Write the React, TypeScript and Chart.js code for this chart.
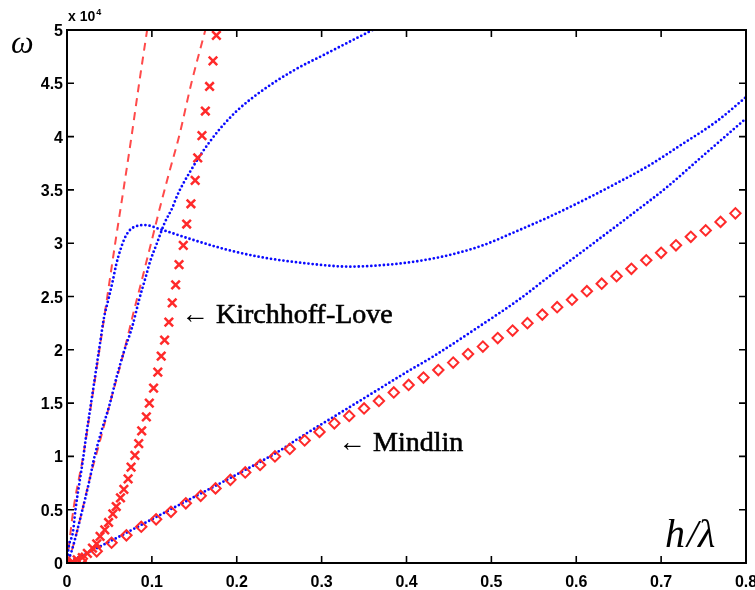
import React, { useEffect, useRef } from "react";
import { Chart, registerables } from "chart.js";

Chart.register(...registerables);

// Axis ticks (ω in units of 10^4)
const X_TICKS = [0, 0.1, 0.2, 0.3, 0.4, 0.5, 0.6, 0.7, 0.8];
const X_TICK_LABELS = ["0", "0.1", "0.2", "0.3", "0.4", "0.5", "0.6", "0.7", "0.8"];
const Y_TICKS = [0, 0.5, 1, 1.5, 2, 2.5, 3, 3.5, 4, 4.5, 5];
const Y_TICK_LABELS = ["0", "0.5", "1", "1.5", "2", "2.5", "3", "3.5", "4", "4.5", "5"];

// Red dashed line (steep)
const DASH1_H = [0, 0.0075, 0.019, 0.0287, 0.0382, 0.0475, 0.0568, 0.0665, 0.076, 0.085, 0.0944];
const DASH1_W = [0, 0.5, 1.0, 1.5, 2.0, 2.5, 3.0, 3.5, 4.0, 4.5, 5.0];

// Red dashed line (second)
const DASH2_H = [0, 0.005, 0.016, 0.028, 0.037, 0.05, 0.067, 0.079, 0.088, 0.1, 0.11, 0.121, 0.132, 0.1465, 0.163];
const DASH2_W = [0, 0.1, 0.43, 0.83, 1.09, 1.48, 1.98, 2.37, 2.65, 3.03, 3.35, 3.68, 4.0, 4.5, 5.0];

// Blue dotted branch with the hump
const BLUE1_H = [0, 0.002, 0.007, 0.01, 0.019, 0.0227, 0.0272, 0.0312, 0.0353, 0.0393, 0.0431, 0.049, 0.054, 0.058, 0.063, 0.0676, 0.0727, 0.0786, 0.092, 0.11, 0.149, 0.188, 0.228, 0.283, 0.333, 0.38, 0.412, 0.451, 0.49, 0.529, 0.569, 0.608, 0.647, 0.686, 0.725, 0.765, 0.8];
const BLUE1_W = [0, 0.15, 0.29, 0.5, 0.98, 1.2, 1.44, 1.65, 1.87, 2.08, 2.28, 2.48, 2.65, 2.8, 2.94, 3.04, 3.11, 3.15, 3.17, 3.13, 3.03, 2.94, 2.87, 2.81, 2.78, 2.8, 2.83, 2.89, 2.98, 3.11, 3.25, 3.4, 3.56, 3.73, 3.93, 4.14, 4.37];

// Blue dotted branch rising to the top
const BLUE2_H = [0, 0.005, 0.016, 0.028, 0.031, 0.04, 0.05, 0.058, 0.067, 0.077, 0.085, 0.093, 0.098, 0.106, 0.115, 0.124, 0.13, 0.137, 0.145, 0.155, 0.169, 0.181, 0.2, 0.228, 0.267, 0.306, 0.36];
const BLUE2_W = [0, 0.1, 0.43, 0.83, 0.95, 1.22, 1.48, 1.73, 1.98, 2.22, 2.47, 2.69, 2.83, 3.0, 3.19, 3.33, 3.45, 3.56, 3.67, 3.8, 3.96, 4.08, 4.24, 4.42, 4.62, 4.78, 5.0];

// Blue dotted lower branch
const BLUE3_H = [0, 0.05, 0.1, 0.15, 0.2, 0.25, 0.275, 0.314, 0.353, 0.4, 0.432, 0.486, 0.534, 0.57, 0.612, 0.667, 0.706, 0.745, 0.8];
const BLUE3_W = [0, 0.2, 0.41, 0.62, 0.83, 1.05, 1.18, 1.37, 1.56, 1.79, 1.94, 2.22, 2.48, 2.7, 2.95, 3.28, 3.52, 3.79, 4.17];

// Kirchhoff-Love (× markers)
const KL_H = [0, 0.006, 0.012, 0.018, 0.024, 0.03, 0.035, 0.039, 0.0445, 0.049, 0.054, 0.058, 0.063, 0.067, 0.072, 0.0755, 0.08, 0.0845, 0.088, 0.0935, 0.097, 0.102, 0.107, 0.111, 0.115, 0.12, 0.124, 0.128, 0.132, 0.137, 0.141, 0.146, 0.151, 0.154, 0.159, 0.163, 0.168, 0.172, 0.176];
const KL_W = [0, 0.01, 0.03, 0.05, 0.09, 0.14, 0.18, 0.25, 0.31, 0.38, 0.46, 0.53, 0.61, 0.69, 0.79, 0.9, 1.01, 1.12, 1.24, 1.37, 1.5, 1.64, 1.79, 1.94, 2.09, 2.26, 2.44, 2.61, 2.8, 2.98, 3.18, 3.37, 3.59, 3.8, 4.01, 4.24, 4.47, 4.71, 4.95];

// Mindlin (diamond markers)
const MI_H = [0, 0.0175, 0.035, 0.0525, 0.07, 0.0875, 0.105, 0.1225, 0.14, 0.1575, 0.175, 0.1925, 0.21, 0.2275, 0.245, 0.2625, 0.28, 0.2975, 0.315, 0.3325, 0.35, 0.3675, 0.385, 0.4025, 0.42, 0.4375, 0.455, 0.4725, 0.49, 0.5075, 0.525, 0.5425, 0.56, 0.5775, 0.595, 0.6125, 0.63, 0.6475, 0.665, 0.6825, 0.7, 0.7175, 0.735, 0.7525, 0.77, 0.7875];
const MI_W = [0, 0.04, 0.11, 0.19, 0.26, 0.34, 0.41, 0.48, 0.56, 0.63, 0.7, 0.78, 0.85, 0.92, 1.0, 1.07, 1.15, 1.23, 1.31, 1.38, 1.45, 1.52, 1.6, 1.67, 1.74, 1.81, 1.88, 1.96, 2.03, 2.11, 2.18, 2.25, 2.33, 2.4, 2.47, 2.55, 2.62, 2.69, 2.76, 2.84, 2.91, 2.98, 3.06, 3.12, 3.2, 3.28];

const pts = (xs: number[], ys: number[]) => xs.map((x, i) => ({ x, y: ys[i] }));

const RED = "#ff2a2a";
const RED_DASH = "#ff4a4a";
const BLUE = "#0a0aff";

const framePlugin = {
  id: "frame",
  afterDraw(chart: any) {
    const { ctx, chartArea: a, scales } = chart;
    const xs = scales.x;
    const ys = scales.y;
    ctx.save();
    ctx.strokeStyle = "#000";
    ctx.lineWidth = 2;
    ctx.strokeRect(a.left, a.top, a.right - a.left, a.bottom - a.top);
    ctx.lineWidth = 1.6;
    const TL = 7;
    ctx.fillStyle = "#000";
    ctx.font = 'bold 16px "Liberation Sans", Arial, sans-serif';
    X_TICKS.forEach((v, i) => {
      const px = xs.getPixelForValue(v);
      ctx.beginPath();
      ctx.moveTo(px, a.bottom);
      ctx.lineTo(px, a.bottom - TL);
      ctx.moveTo(px, a.top);
      ctx.lineTo(px, a.top + TL);
      ctx.stroke();
      ctx.textAlign = "center";
      ctx.textBaseline = "alphabetic";
      ctx.fillText(X_TICK_LABELS[i], px, a.bottom + 24);
    });
    Y_TICKS.forEach((v, i) => {
      const py = ys.getPixelForValue(v);
      ctx.beginPath();
      ctx.moveTo(a.left, py);
      ctx.lineTo(a.left + TL, py);
      ctx.moveTo(a.right, py);
      ctx.lineTo(a.right - TL, py);
      ctx.stroke();
      ctx.textAlign = "right";
      ctx.textBaseline = "alphabetic";
      ctx.fillText(Y_TICK_LABELS[i], a.left - 4, py + 6);
    });
    // exponent label
    ctx.textAlign = "left";
    ctx.font = 'bold 14px "Liberation Sans", Arial, sans-serif';
    ctx.fillText("x 10", a.left + 1, 21);
    const w10 = ctx.measureText("x 10").width;
    ctx.font = 'bold 9px "Liberation Sans", Arial, sans-serif';
    ctx.fillText("4", a.left + 2 + w10, 15);
    // axis labels
    ctx.font = 'italic 32px "Liberation Serif", "DejaVu Serif", serif';
    ctx.fillText("ω", 11, 53);
    ctx.font = 'italic 40px "Liberation Serif", "DejaVu Serif", serif';
    ctx.fillText("h", 665, 547);
    ctx.fillText("/", 687, 547);
    ctx.fillText("λ", 698, 547);
    // annotations
    ctx.font = '28px "Liberation Serif", "DejaVu Serif", serif';
    ctx.strokeStyle = "#000";
    ctx.lineWidth = 0.6;
    ctx.fillText("← Kirchhoff-Love", 181, 323);
    ctx.strokeText("Kirchhoff-Love", 181 + ctx.measureText("← ").width, 323);
    ctx.fillText("← Mindlin", 338, 451);
    ctx.strokeText("Mindlin", 338 + ctx.measureText("← ").width, 451);
    ctx.restore();
  },
};

export default function App() {
  const ref = useRef<HTMLCanvasElement | null>(null);
  useEffect(() => {
    if (!ref.current) return;
    const dotted = {
      showLine: true,
      borderColor: BLUE,
      borderWidth: 2.8,
      borderDash: [0, 4.2],
      borderCapStyle: "round" as const,
      pointRadius: 0,
      cubicInterpolationMode: "monotone" as const,
      fill: false,
    };
    const dashed = {
      showLine: true,
      borderColor: RED_DASH,
      borderWidth: 2,
      borderDash: [8, 6],
      pointRadius: 0,
      cubicInterpolationMode: "monotone" as const,
      fill: false,
    };
    const chart = new Chart(ref.current, {
      type: "scatter",
      data: {
        datasets: [
          {
            label: "Kirchhoff-Love",
            data: pts(KL_H, KL_W),
            showLine: false,
            pointStyle: "crossRot",
            pointRadius: 6,
            borderColor: RED,
            backgroundColor: RED,
            pointBorderWidth: 2.5,
          },
          {
            label: "Mindlin",
            data: pts(MI_H, MI_W),
            showLine: false,
            pointStyle: "rectRot",
            pointRadius: 5.2,
            borderColor: RED,
            backgroundColor: "rgba(0,0,0,0)",
            pointBorderWidth: 2,
          },
          { label: "blue1", data: pts(BLUE1_H, BLUE1_W), ...dotted },
          { label: "blue2", data: pts(BLUE2_H, BLUE2_W), ...dotted },
          { label: "blue3", data: pts(BLUE3_H, BLUE3_W), ...dotted },
          { label: "dash1", data: pts(DASH1_H, DASH1_W), ...dashed },
          { label: "dash2", data: pts(DASH2_H, DASH2_W), ...dashed },
        ],
      },
      options: {
        animation: false,
        responsive: false,
        devicePixelRatio: 1,
        events: [],
        layout: { padding: { left: 67, right: 9, top: 30, bottom: 27 } },
        scales: {
          x: { type: "linear", min: 0, max: 0.8, display: false },
          y: { type: "linear", min: 0, max: 5, display: false },
        },
        plugins: { legend: { display: false }, tooltip: { enabled: false } },
      },
      plugins: [framePlugin],
    });
    return () => chart.destroy();
  }, []);
  return (
    <div style={{ position: "absolute", left: 0, top: 0, width: 755, height: 590, background: "#fff" }}>
      <canvas ref={ref} width={755} height={590} style={{ display: "block" }} />
    </div>
  );
}
